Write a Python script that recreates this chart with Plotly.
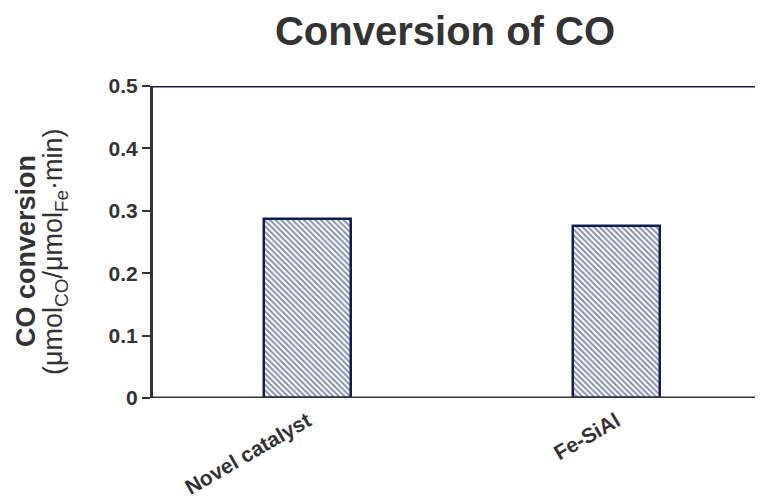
import plotly.graph_objects as go

categories = ["Novel catalyst", "Fe-SiAl"]
values = [0.287, 0.276]
y_ticks = [0, 0.1, 0.2, 0.3, 0.4, 0.5]
y_tick_labels = ["0", "0.1", "0.2", "0.3", "0.4", "0.5"]

navy = "#0c2050"
axis_col = "#333333"
font_fam = "Liberation Sans, Arial, sans-serif"

# page body adds an 8px offset; margins compensate
L, R, T, B = 145, 8, 78, 114
PW = 763 - L - R

fig = go.Figure()
fig.add_trace(go.Bar(
    x=categories, y=values, width=0.28,
    marker=dict(
        color="white",
        line=dict(color=navy, width=2.5),
        pattern=dict(shape="\\", fgcolor=navy, bgcolor="white", size=4, solidity=0.5, fillmode="overlay"),
    ),
    showlegend=False,
))

fig.add_shape(type="line", xref="paper", yref="y", x0=0, x1=1, y0=0.5, y1=0.5,
              line=dict(color=navy, width=3))
fig.add_shape(type="line", xref="paper", yref="y", x0=0, x1=1, y0=0, y1=0,
              line=dict(color=axis_col, width=3))

fig.update_layout(
    width=763, height=504,
    paper_bgcolor="white", plot_bgcolor="white",
    margin=dict(l=L, r=R, t=T, b=B),
    font=dict(family=font_fam, color=axis_col),
    title=dict(text="<b>Conversion of CO</b>", x=(445 - 8) / 763, xanchor="center",
               y=1 - 23 / 504, yanchor="middle",
               font=dict(size=40, color=axis_col, family=font_fam)),
    xaxis=dict(range=[-0.5, 1.474], showgrid=False, zeroline=False, showline=False,
               tickangle=-30, tickfont=dict(size=21, color=axis_col, family=font_fam),
               ticklabelstandoff=6,
               ticks="", tickvals=categories, ticktext=["<b>%s</b>" % c for c in categories]),
    yaxis=dict(range=[0, 0.5], tickvals=y_ticks, ticktext=["<b>%s</b>" % t for t in y_tick_labels],
               showgrid=False, zeroline=False, showline=True, linecolor=axis_col, linewidth=3,
               ticks="outside", ticklen=8, tickwidth=2, tickcolor=axis_col,
               tickfont=dict(size=21, color=axis_col, family=font_fam)),
    bargap=0,
)

fig.add_annotation(text="<b>CO conversion</b>", xref="paper", yref="paper",
                   x=(26 - 8 - L) / PW, y=(398 - 251) / 312,
                   textangle=-90, showarrow=False, xanchor="center", yanchor="middle",
                   font=dict(size=27, color=axis_col, family=font_fam))
fig.add_annotation(text="(μmol<sub>CO</sub>/μmol<sub>Fe</sub>·min)", xref="paper", yref="paper",
                   x=(55 - 8 - L) / PW, y=(398 - 252) / 312,
                   textangle=-90, showarrow=False, xanchor="center", yanchor="middle",
                   font=dict(size=27, color=axis_col, family=font_fam))

fig.write_html("out.html")
